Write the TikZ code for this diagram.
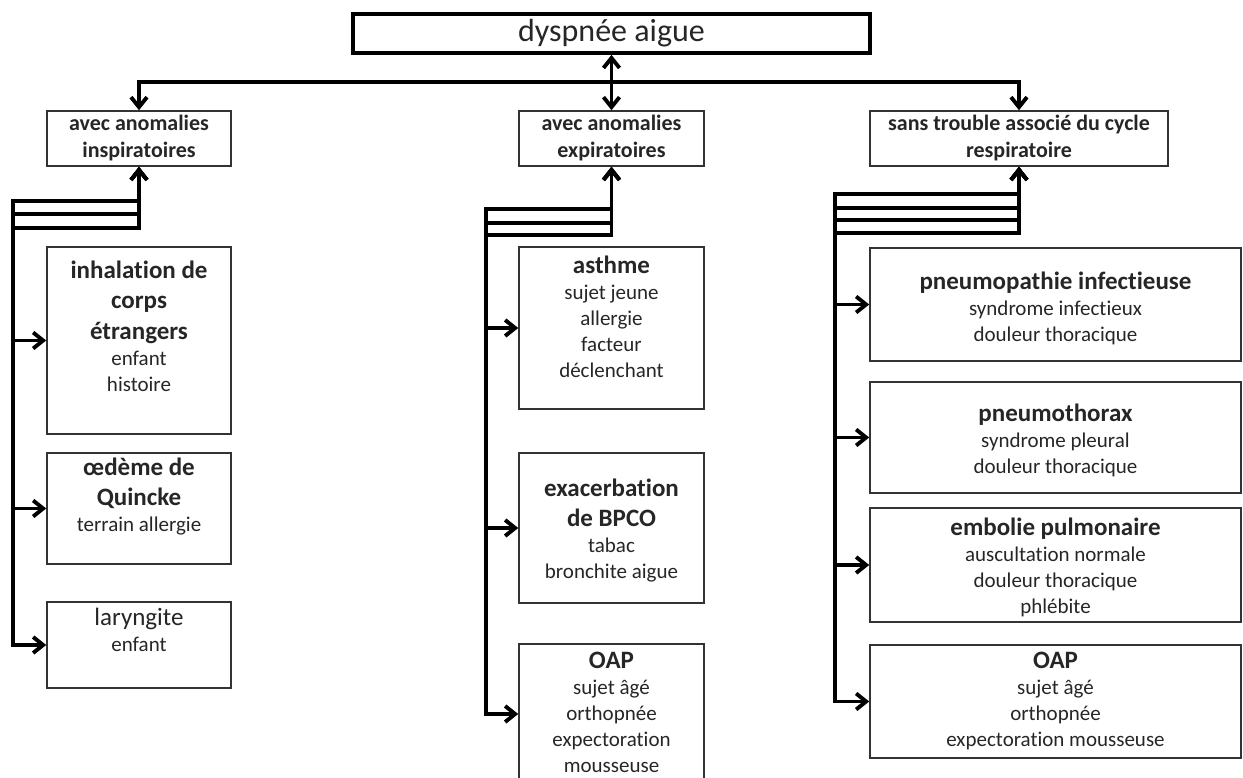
\documentclass[tikz,border=0pt]{standalone}
\usepackage{fontspec}
\setmainfont{Carlito}[Ligatures={NoCommon,NoContextual}, Contextuals=NoAlternate]
\usetikzlibrary{arrows.meta,positioning}

\newcommand{\casehead}[1]{{\fontsize{18.75}{22}\selectfont\bfseries #1}}

\begin{document}
\begin{tikzpicture}[x=0.75pt, y=-0.75pt,
    link/.style={line width=2.9pt, line join=miter,
        {Straight Barb[length=7.5pt,width=12pt]}-{Straight Barb[length=7.5pt,width=12pt]}},
    rootbox/.style={draw, line width=2.8pt, minimum width=387.75pt, minimum height=29.25pt,
        font=\fontsize{24}{28}\selectfont, text=black!85},
    groupbox/.style={draw=black!80, line width=1.2pt, minimum width=138pt, minimum height=41.25pt,
        align=center, font=\fontsize{16.5}{20.25}\selectfont\bfseries, text=black!85},
    casebox/.style={draw=black!80, line width=1.2pt, minimum width=138pt},
    casetxt/.style={align=center, inner sep=0pt, font=\fontsize{15.75}{19.5}\selectfont, text=black!85}]
\clip (0,0) rectangle (1243,778);

% top and the three groups
\node[rootbox] (dysp) at (611.5,33.5) {dyspn\'ee aigue};
\node[groupbox] (insp) at (139,138.5) {avec anomalies\\inspiratoires};
\node[groupbox, minimum width=138.75pt] (expi) at (611.5,138.5) {avec anomalies\\expiratoires};
\node[groupbox, minimum width=223.5pt] (sans) at (1019,138.5) {sans trouble associ\'e du cycle\\respiratoire};

\draw[link] (insp.north) -- ++(0,-28) -| (sans.north);
\draw[link] (dysp.south) -- (expi.north);

% inspiratoires
\node[casebox, minimum height=140.25pt] (inhal) at (139,340.5) {};
\node[casetxt, below=10.5pt of inhal.north] (inhal-t)
    {\casehead{inhalation de}\\[3.4pt]\casehead{corps}\\[3.4pt]\casehead{\'etrangers}\\enfant\\histoire};
\node[casebox, minimum height=83.25pt] (oed) at (139,508.5) {};
\node[casetxt, below=3.75pt of oed.north] (oed-t)
    {\casehead{\oe d\`eme de}\\[3.4pt]\casehead{Quincke}\\terrain allergie};
\node[casebox, minimum height=64.5pt] (laryn) at (139,645) {};
\node[casetxt, below=5pt of laryn.north] (laryn-t)
    {{\fontsize{18.75}{22}\selectfont laryngite}\\enfant};

\draw[link] (insp.south) -- ++(0,34) -| ([xshift=-24.75pt]inhal.west) -- (inhal.west);
\draw[link] (insp.south) -- ++(0,47) -| ([xshift=-24.75pt]oed.west) -- (oed.west);
\draw[link] (insp.south) -- ++(0,61) -| ([xshift=-24.75pt]laryn.west) -- (laryn.west);

% expiratoires
\node[casebox, minimum width=138.75pt, minimum height=121.5pt] (asth) at (611.5,328) {};
\node[casetxt, below=6.75pt of asth.north] (asth-t)
    {\casehead{asthme}\\sujet jeune\\allergie\\facteur\\d\'eclenchant};
\node[casebox, minimum width=138.75pt, minimum height=112.5pt] (bpco) at (611.5,528) {};
\node[casetxt, below=19.5pt of bpco.north] (bpco-t)
    {\casehead{exacerbation}\\[3.4pt]\casehead{de BPCO}\\tabac\\bronchite aigue};
\node[casebox, minimum width=138.75pt, minimum height=105pt] (oapm) at (611.5,714) {};
\node[casetxt, below=6.75pt of oapm.north] (oapm-t)
    {\casehead{OAP}\\sujet \^ag\'e\\orthopn\'ee\\expectoration\\mousseuse};

\draw[link] (expi.south) -- ++(0,42) -| ([xshift=-24pt]asth.west) -- (asth.west);
\draw[link] (expi.south) -- ++(0,56) -| ([xshift=-24pt]bpco.west) -- (bpco.west);
\draw[link] (expi.south) -- ++(0,68) -| ([xshift=-24pt]oapm.west) -- (oapm.west);

% sans trouble du cycle
\node[casebox, minimum width=278.25pt, minimum height=84.75pt] (pneu) at (1055.5,304.5) {};
\node[casetxt, below=18pt of pneu.north] (pneu-t)
    {\casehead{pneumopathie infectieuse}\\syndrome infectieux\\douleur thoracique};
\node[casebox, minimum width=278.25pt, minimum height=83.25pt] (ptx) at (1055.5,437.5) {};
\node[casetxt, below=16.5pt of ptx.north] (ptx-t)
    {\casehead{pneumothorax}\\syndrome pleural\\douleur thoracique};
\node[casebox, minimum width=278.25pt, minimum height=85.5pt] (emb) at (1055.5,565) {};
\node[casetxt, below=7.5pt of emb.north] (emb-t)
    {\casehead{embolie pulmonaire}\\auscultation normale\\douleur thoracique\\phl\'ebite};
\node[casebox, minimum width=278.25pt, minimum height=84.75pt] (oapr) at (1055.5,701.5) {};
\node[casetxt, below=6pt of oapr.north] (oapr-t)
    {\casehead{OAP}\\sujet \^ag\'e\\orthopn\'ee\\expectoration mousseuse};

\draw[link] (sans.south) -- ++(0,27) -| ([xshift=-25.5pt]pneu.west) -- (pneu.west);
\draw[link] (sans.south) -- ++(0,41) -| ([xshift=-25.5pt]ptx.west) -- (ptx.west);
\draw[link] (sans.south) -- ++(0,53) -| ([xshift=-25.5pt]emb.west) -- (emb.west);
\draw[link] (sans.south) -- ++(0,66) -| ([xshift=-25.5pt]oapr.west) -- (oapr.west);
\end{tikzpicture}
\end{document}
